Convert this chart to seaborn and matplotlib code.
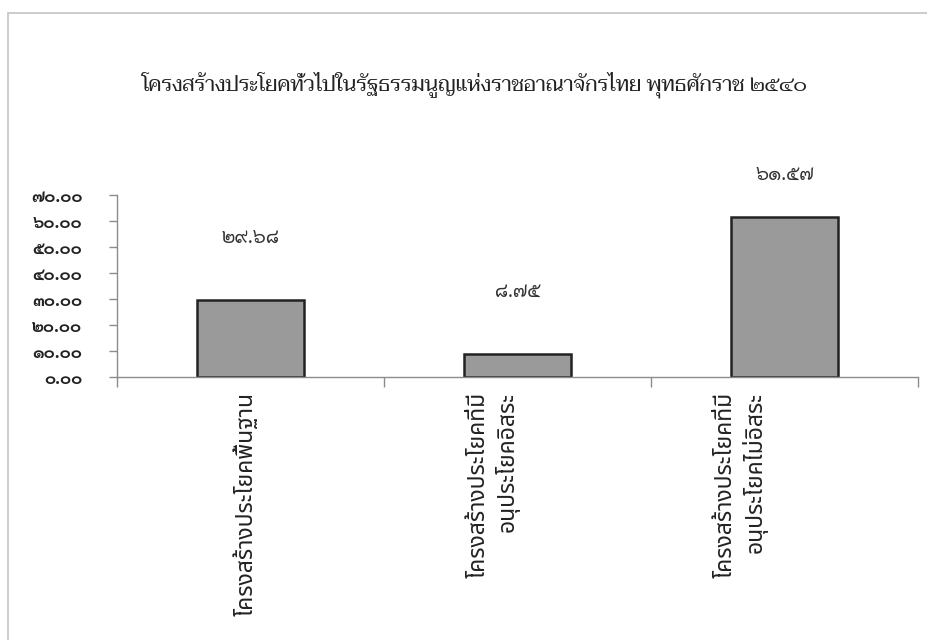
import numpy as np
import pandas as pd
import matplotlib
matplotlib.use("Agg")
import matplotlib.pyplot as plt
import matplotlib.transforms as mtransforms
from matplotlib.patches import Rectangle
from matplotlib.ticker import FuncFormatter
import seaborn as sns

# data
title = "โครงสร้างประโยคทั่วไปในรัฐธรรมนูญแห่งราชอาณาจักรไทย พุทธศักราช ๒๕๔๐"
categories = [
    "โครงสร้างประโยคพื้นฐาน",
    "โครงสร้างประโยคที่มี\nอนุประโยคอิสระ",
    "โครงสร้างประโยคที่มี\nอนุประโยคไม่อิสระ",
]
values = [29.68, 8.75, 61.57]
y_ticks = [0, 10, 20, 30, 40, 50, 60, 70]

THAI_DIGITS = str.maketrans("0123456789", "๐๑๒๓๔๕๖๗๘๙")


def thai_num(v, decimals=2):
    return f"{v:.{decimals}f}".translate(THAI_DIGITS)


sns.set_style("white")
plt.rcParams["font.family"] = ["Sarabun", "DejaVu Sans"]

df = pd.DataFrame({"category": categories, "value": values})

fig = plt.figure(figsize=(9.28, 6.4), dpi=100)
ax = fig.add_axes([117 / 928, 1 - 377 / 640, (918 - 117) / 928, (377 - 195) / 640])

sns.barplot(data=df, x="category", y="value", ax=ax, color="#9a9a9a",
            width=0.4, edgecolor="#222222", linewidth=1.8, saturation=1)

ax.set_xlim(-0.5, 2.5)
ax.set_ylim(0, 70)
ax.set_yticks(y_ticks)
ax.yaxis.set_major_formatter(FuncFormatter(lambda v, p: thai_num(v)))
ax.set_xlabel("")
ax.set_ylabel("")

for side in ["top", "right"]:
    ax.spines[side].set_visible(False)
for side in ["left", "bottom"]:
    ax.spines[side].set_color("#8c8c8c")
    ax.spines[side].set_linewidth(1.0)

ax.tick_params(axis="y", direction="out", length=6, width=1, color="#8c8c8c",
               labelsize=12, pad=19, left=True)
for lab in ax.get_yticklabels():
    lab.set_fontweight("bold")
    lab.set_color("#222222")

# category boundaries carry the x ticks
ax.set_xticks([-0.5, 0.5, 1.5, 2.5], minor=True)
ax.tick_params(axis="x", which="minor", direction="out", length=7, width=1,
               color="#8c8c8c", bottom=True)
ax.tick_params(axis="x", which="major", length=0, pad=11)
ax.set_xticklabels(categories, rotation=90, ha="center", va="top",
                   multialignment="right", fontsize=16.5,
                   family=["Noto Sans Thai", "DejaVu Sans"], color="#222222")
label_shift = [-4, -24, -44]
for lab, dx in zip(ax.get_xticklabels(), label_shift):
    lab.set_transform(lab.get_transform() +
                      mtransforms.ScaledTranslation(dx / 100, 0, fig.dpi_scale_trans))

# value labels above bars
label_rise = [62, 62, 42]
for i, v in enumerate(values):
    ax.annotate(thai_num(v), (i, v), xytext=(0, label_rise[i] * 0.72),
                textcoords="offset points", ha="center", va="center",
                fontsize=14, color="#333333", family=["Sarabun", "DejaVu Sans"])

fig.text(475 / 928, 1 - 85 / 640, title, ha="center", va="center",
         fontsize=15, color="#222222", family=["Taviraj", "DejaVu Sans"])

# light page frame
fig.patches.append(Rectangle((8 / 928, -0.1), 1.2, 1.1 - 13 / 640,
                             transform=fig.transFigure, fill=False,
                             edgecolor="#c4c4c4", linewidth=1.2))

fig.savefig("out.png", dpi=100)
